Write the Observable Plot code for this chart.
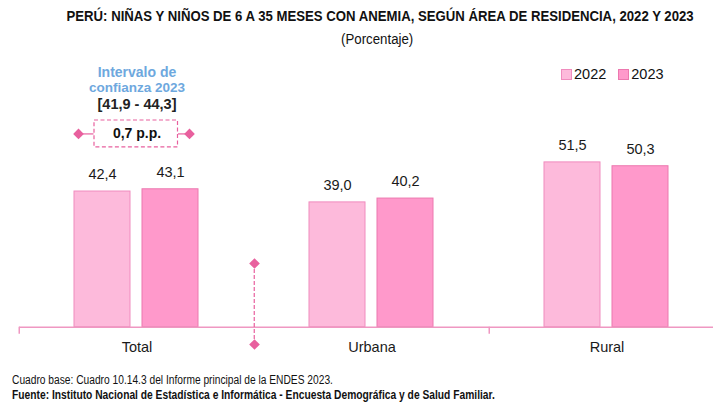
<!DOCTYPE html>
<html>
<head>
<meta charset="utf-8">
<script src="https://cdn.jsdelivr.net/npm/d3@7"></script>
<script src="https://cdn.jsdelivr.net/npm/@observablehq/plot@0.6"></script>
<style>
  body { margin: 0; background: #fff; }
  #wrap { position: relative; width: 713px; height: 403px; overflow: hidden; font-family: 'Liberation Sans', Arial, sans-serif; color: #111; }
  #title { position: relative; height: 50px; }
  .fit { position: absolute; white-space: nowrap; display: inline-block; }
  #t1 { font-weight: bold; font-size: 15.5px; line-height: 16px; top: 8px; }
  #t2 { font-size: 14px; line-height: 16px; top: 30.5px; }
  #legend { position: absolute; top: 66px; left: 561px; display: flex; align-items: center; font-size: 14.5px; }
  #legend .sw { width: 9px; height: 9px; border: 1px solid; margin-right: 2px; }
  #legend .item { display: flex; align-items: center; margin-right: 12px; }
  #c1 { font-size: 12px; line-height: 13px; top: 374px; }
  #c2 { font-size: 12px; line-height: 13px; top: 389px; font-weight: bold; }
</style>
</head>
<body>
<div id="wrap">
  <div id="title">
    <span id="t1" class="fit">PERÚ: NIÑAS Y NIÑOS DE 6 A 35 MESES CON ANEMIA, SEGÚN ÁREA DE RESIDENCIA, 2022 Y 2023</span>
    <span id="t2" class="fit">(Porcentaje)</span>
  </div>
  <div id="legend"></div>
  <div id="chart"></div>
  <span id="c1" class="fit">Cuadro base: Cuadro 10.14.3 del Informe principal de la ENDES 2023.</span>
  <span id="c2" class="fit">Fuente: Instituto Nacional de Estadística e Informática - Encuesta Demográfica y de Salud Familiar.</span>
</div>
<script>
// ---- data ----
const categories = ["Total", "Urbana", "Rural"];
const years = ["2022", "2023"];
const values2022 = [42.4, 39.0, 51.5];
const values2023 = [43.1, 40.2, 50.3];
const ciTotal2023 = [41.9, 44.3];

// ---- styling ----
const fills = {"2022": "#FDBADB", "2023": "#FF99CB"};
const strokes = {"2022": "#F08CBE", "2023": "#EC78AF"};
const pink = "#E8609E";
const axisPink = "#EF98C2";
const blue = "#6EA8DE";
const NARROW_K = 0.82; // emulate a narrow face by horizontal scaling

const rows = [];
categories.forEach((c, i) => {
  rows.push({cat: c, year: "2022", value: values2022[i]});
  rows.push({cat: c, year: "2023", value: values2023[i]});
});
const fmt = v => d3.format(".1f")(v).replace(".", ",");

// fit html text to a target width (narrow look)
function fit(id, targetW, anchor, pos) {
  const el = document.getElementById(id);
  const w = el.offsetWidth;
  const k = targetW / w;
  if (anchor === "center") {
    el.style.left = (pos - w / 2) + "px";
    el.style.transformOrigin = "50% 50%";
  } else {
    el.style.left = pos + "px";
    el.style.transformOrigin = "0 50%";
  }
  el.style.transform = `scaleX(${k})`;
}
fit("t1", 627, "center", 380);
fit("t2", 72, "center", 377);
fit("c1", 321, "left", 12);
fit("c2", 483, "left", 12);

// legend
const legend = document.getElementById("legend");
years.forEach(y => {
  const it = document.createElement("div");
  it.className = "item";
  const sw = document.createElement("div");
  sw.className = "sw";
  sw.style.background = fills[y];
  sw.style.borderColor = strokes[y];
  const tx = document.createElement("span");
  tx.textContent = y;
  it.append(sw, tx);
  legend.append(it);
});

const W = 713, H = 315;
const fxLeft = 18, fxRight = 724.5;
const band = (fxRight - fxLeft) / categories.length;
const half = band / 2;

const diff = values2023[0] - values2022[0];
const annot = [{cat: "Total"}];
const narrowText = {fontFamily: "'Liberation Sans', Arial, sans-serif", fontWeight: "bold", ariaLabel: "narrow"};

const chart = Plot.plot({
  width: W,
  height: H,
  marginTop: 84.7,
  marginBottom: 38.3,
  marginLeft: fxLeft,
  marginRight: W - fxRight,
  style: {fontFamily: "'Liberation Sans', Arial, sans-serif", overflow: "visible"},
  fx: {domain: categories, range: [fxLeft, fxRight], padding: 0, axis: null},
  x: {domain: years, paddingInner: 0.1747, paddingOuter: 0.801, axis: null},
  y: {domain: [0, 60], axis: null},
  marks: [
    Plot.barY(rows, {fx: "cat", x: "year", y: "value", fill: d => fills[d.year], stroke: d => strokes[d.year], strokeWidth: 1}),
    Plot.ruleY([0], {stroke: axisPink, strokeWidth: 1.5}),
    // ticks at group boundaries
    Plot.ruleX([{cat: "Total"}, {cat: "Rural"}], {fx: "cat", x: null, dx: -half, y1: 0, y2: -2.2, stroke: axisPink, strokeWidth: 1.5}),
    // value labels
    Plot.text(rows, {fx: "cat", x: "year", y: "value", text: d => fmt(d.value), dy: -17, fontSize: 14.5, fill: "#1a1a1a"}),
    // category labels
    Plot.text(categories, {fx: d => d, text: d => d, frameAnchor: "bottom", dy: 25, fontSize: 14.5, fill: "#1a1a1a"}),
    // divider between Total and Urbana
    Plot.ruleX([{cat: "Urbana"}], {fx: "cat", x: null, dx: -half, y1: 19.9, y2: -5.4, stroke: pink, strokeWidth: 1.2, strokeDasharray: "4,2"}),
    Plot.dot([{cat: "Total", v: 19.9}, {cat: "Total", v: -5.4}], {fx: "cat", y: "v", frameAnchor: "right", symbol: "diamond2", r: 4.8, fill: pink, stroke: "none"}),
    // confidence interval annotation
    Plot.text(annot, {fx: "cat", y: 79.6, text: () => "Intervalo de", fontSize: 14, fill: blue, ...narrowText}),
    Plot.text(annot, {fx: "cat", y: 74.8, text: () => "confianza 2023", fontSize: 13.5, fill: blue, ...narrowText}),
    Plot.text(annot, {fx: "cat", y: 69.7, text: () => `[${fmt(ciTotal2023[0])} - ${fmt(ciTotal2023[1])}]`, fontSize: 14.5, fill: "#222", ...narrowText}),
    Plot.rect(annot, {fx: "cat", y1: 56.2, y2: 64.6, insetLeft: 75, insetRight: band - 159, fill: "none", stroke: pink, strokeWidth: 1.2, strokeDasharray: "4,2.5"}),
    Plot.text(annot, {fx: "cat", y: 60.4, text: () => `${fmt(diff)} p.p.`, fontSize: 14, fill: "#111", ...narrowText}),
    Plot.ruleY(annot, {fx: "cat", y: 60.4, insetLeft: 59, insetRight: band - 75, stroke: pink, strokeWidth: 1.2}),
    Plot.ruleY(annot, {fx: "cat", y: 60.4, insetLeft: 159, insetRight: band - 170, stroke: pink, strokeWidth: 1.2}),
    Plot.dot(annot, {fx: "cat", y: 60.4, frameAnchor: "left", dx: 59, symbol: "diamond2", r: 4.8, fill: pink, stroke: "none"}),
    Plot.dot(annot, {fx: "cat", y: 60.4, frameAnchor: "left", dx: 170, symbol: "diamond2", r: 4.8, fill: pink, stroke: "none"})
  ]
});
document.getElementById("chart").append(chart);
chart.querySelectorAll('g[aria-label="narrow"] text').forEach(t => {
  t.setAttribute("transform", (t.getAttribute("transform") || "") + ` scale(${NARROW_K},1)`);
});
</script>
</body>
</html>
